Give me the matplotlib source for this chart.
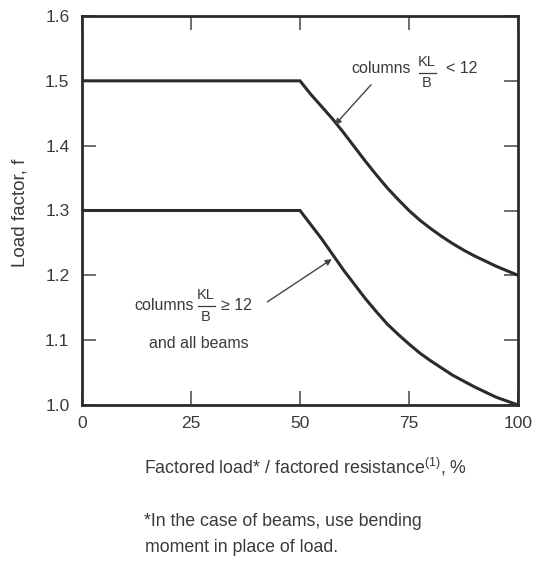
import matplotlib
matplotlib.use("Agg")
import matplotlib.pyplot as plt
from matplotlib import font_manager

# ---- data ----
x_upper = [0, 50, 52.5, 55, 57.5, 60, 62.5, 65, 67.5, 70, 72.5, 75, 77.5, 80,
           82.5, 85, 87.5, 90, 92.5, 95, 97.5, 100]
f_upper = [1.5, 1.5, 1.479, 1.460, 1.441, 1.420, 1.398, 1.376, 1.355, 1.335, 1.317,
           1.300, 1.285, 1.272, 1.260, 1.249, 1.239, 1.230, 1.222, 1.214, 1.207, 1.2]
x_lower = [0, 50, 52.5, 55, 57.5, 60, 62.5, 65, 67.5, 70, 72.5, 75, 77.5, 80,
           82.5, 85, 87.5, 90, 92.5, 95, 97.5, 100]
f_lower = [1.3, 1.3, 1.278, 1.256, 1.232, 1.208, 1.186, 1.164, 1.144, 1.125, 1.109,
           1.094, 1.080, 1.068, 1.057, 1.046, 1.037, 1.028, 1.020, 1.012, 1.006, 1.0]
x_ticks = [0, 25, 50, 75, 100]
y_ticks = [1.0, 1.1, 1.2, 1.3, 1.4, 1.5, 1.6]

names = {f.name for f in font_manager.fontManager.ttflist}
fam = "Liberation Sans Narrow" if "Liberation Sans Narrow" in names else "Liberation Sans"
plt.rcParams["font.family"] = [fam, "DejaVu Sans"]
plt.rcParams["mathtext.fontset"] = "custom"
plt.rcParams["mathtext.rm"] = fam
plt.rcParams["mathtext.it"] = fam
plt.rcParams["mathtext.sf"] = fam

TXT = "#3a3a3a"
LINE = "#2b2b2b"
W, H = 537, 567

fig = plt.figure(figsize=(W/100, H/100), dpi=100)
ax = fig.add_axes([82/W, 1-405/H, (518-82)/W, (405-16)/H])

def px(x, y):
    return x / W, 1 - y / H

ax.plot(x_upper, f_upper, color=LINE, lw=2.2, solid_joinstyle="miter")
ax.plot(x_lower, f_lower, color=LINE, lw=2.2, solid_joinstyle="miter")

ax.set_xlim(0, 100)
ax.set_ylim(1.0, 1.6)
ax.set_xticks(x_ticks)
ax.set_xticklabels([str(v) for v in x_ticks])
ax.set_yticks(y_ticks)
ax.set_yticklabels([f"{v:.1f}" for v in y_ticks])
ax.tick_params(direction="in", length=10, width=1.2, color="#555555",
               top=True, right=True, labelsize=12.5, labelcolor=TXT)
ax.tick_params(axis="x", pad=8)
ax.tick_params(axis="y", pad=9)
for s in ax.spines.values():
    s.set_linewidth(2.0)
    s.set_color(LINE)

fig.text(*px(20, 213), "Load factor, f", rotation=90, ha="center", va="center",
         fontsize=13.5, color=TXT)
fig.text(*px(306, 467), r"Factored load* / factored resistance$^{(1)}$, %",
         ha="center", va="center", fontsize=12.8, color=TXT)
fig.text(*px(144, 522), "*In the case of beams, use bending",
         ha="left", va="center", fontsize=12.8, color=TXT)
fig.text(*px(145, 548), "moment in place of load.",
         ha="left", va="center", fontsize=12.8, color=TXT)

# annotations
ax.annotate("", xy=(58.0, 1.432), xytext=(66.3, 1.494),
            arrowprops=dict(arrowstyle="-|>", color="#444444", lw=1.0,
                            mutation_scale=9, shrinkA=0, shrinkB=0))
ANN = 11.5
fig.text(*px(351, 69), "columns", ha="left", va="center", fontsize=ANN, color=TXT)
fig.text(*px(427, 62), "KL", ha="center", va="center", fontsize=ANN - 1, color=TXT)
fig.add_artist(plt.Line2D([419/W, 436/W], [1-73/H, 1-73/H], color=TXT, lw=0.9))
fig.text(*px(427, 83), "B", ha="center", va="center", fontsize=ANN - 1, color=TXT)
fig.text(*px(446, 69), "< 12", ha="left", va="center", fontsize=ANN, color=TXT)

ax.annotate("", xy=(57.3, 1.225), xytext=(42.5, 1.159),
            arrowprops=dict(arrowstyle="-|>", color="#444444", lw=1.0,
                            mutation_scale=9, shrinkA=0, shrinkB=0))
fig.text(*px(134, 305), "columns", ha="left", va="center", fontsize=ANN, color=TXT)
fig.text(*px(206, 295), "KL", ha="center", va="center", fontsize=ANN - 1, color=TXT)
fig.add_artist(plt.Line2D([198/W, 215/W], [1-306/H, 1-306/H], color=TXT, lw=0.9))
fig.text(*px(206, 317), "B", ha="center", va="center", fontsize=ANN - 1, color=TXT)
fig.text(*px(221, 305), "\u2265 12", ha="left", va="center", fontsize=ANN, color=TXT)
fig.text(*px(149, 344), "and all beams", ha="left", va="center", fontsize=ANN, color=TXT)

fig.savefig("out.png", dpi=100, facecolor="white")
